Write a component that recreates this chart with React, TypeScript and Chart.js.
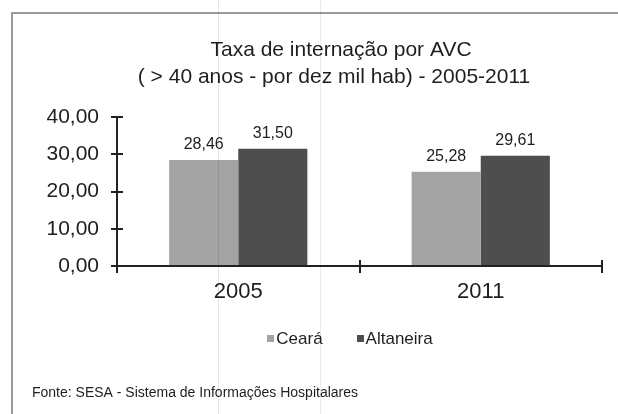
import { useEffect, useRef } from 'react';
import { Chart, registerables } from 'chart.js';

Chart.register(...registerables);

const categories = ['2005', '2011'];
const seriesNames = ['Ceará', 'Altaneira'];
const cearaValues = [28.46, 25.28];
const altaneiraValues = [31.5, 29.61];
const seriesColors = ['#a3a3a3', '#4e4e4e'];
const yTicks = [0, 10, 20, 30, 40];
const titleLines = ['Taxa de internação por AVC', '( > 40 anos - por dez mil hab) - 2005-2011'];
const sourceText = 'Fonte: SESA - Sistema de Informações Hospitalares';

const FONT = '"Liberation Sans", Arial, Helvetica, sans-serif';
const TEXT = '#1e1e1e';
const fmt = (v: number) => v.toFixed(2).replace('.', ',');

const chromePlugin = {
  id: 'chrome',
  afterDatasetsDraw(chart: any) {
    const ctx = chart.ctx;
    ctx.save();
    ctx.fillStyle = TEXT;
    ctx.font = `16px ${FONT}`;
    ctx.textAlign = 'center';
    ctx.textBaseline = 'alphabetic';
    chart.data.datasets.forEach((ds: any, di: number) => {
      const meta = chart.getDatasetMeta(di);
      meta.data.forEach((el: any, i: number) => {
        ctx.fillText(fmt(ds.data[i]), el.x, el.y - 11);
      });
    });
    ctx.restore();
  },
  afterDraw(chart: any) {
    const ctx = chart.ctx;
    const ca = chart.chartArea;
    const xs = chart.scales.x;
    const ys = chart.scales.y;
    ctx.save();
    // inner halves of the crossing tick marks
    ctx.strokeStyle = '#222';
    ctx.lineWidth = 2;
    ys.ticks.forEach((_t: any, i: number) => {
      const y = Math.round(ys.getPixelForTick(i));
      ctx.beginPath();
      ctx.moveTo(ca.left, y);
      ctx.lineTo(ca.left + 6, y);
      ctx.stroke();
    });
    const n = chart.data.labels.length;
    for (let i = 0; i <= n; i++) {
      const x = Math.round(xs.left + (i * xs.width) / n);
      ctx.beginPath();
      ctx.moveTo(x, ca.bottom);
      ctx.lineTo(x, ca.bottom - 6);
      ctx.stroke();
    }
    // title
    ctx.fillStyle = TEXT;
    ctx.textBaseline = 'alphabetic';
    ctx.textAlign = 'center';
    ctx.font = `21px ${FONT}`;
    ctx.fillText(titleLines[0], 341, 56);
    ctx.fillText(titleLines[1], 334, 83);
    // legend
    ctx.font = `17px ${FONT}`;
    const box = 7;
    const gap = 2;
    const spacing = 34;
    const widths = chart.data.datasets.map((d: any) => ctx.measureText(d.label).width);
    const total =
      widths.reduce((a: number, w: number) => a + w + box + gap, 0) + spacing * (widths.length - 1);
    let lx = 350 - total / 2;
    ctx.textAlign = 'left';
    chart.data.datasets.forEach((d: any, i: number) => {
      ctx.fillStyle = d.backgroundColor;
      ctx.fillRect(Math.round(lx), 335, box, box);
      ctx.fillStyle = TEXT;
      ctx.fillText(d.label, lx + box + gap, 344);
      lx += box + gap + widths[i] + spacing;
    });
    // source
    ctx.font = `14px ${FONT}`;
    ctx.fillText(sourceText, 32, 397);
    ctx.restore();
  },
};

export default function App() {
  const ref = useRef<HTMLCanvasElement | null>(null);
  useEffect(() => {
    if (!ref.current) return;
    const chart = new Chart(ref.current, {
      type: 'bar',
      data: {
        labels: categories,
        datasets: [
          {
            label: seriesNames[0],
            data: cearaValues,
            backgroundColor: seriesColors[0],
            borderWidth: 0,
            categoryPercentage: 0.57,
            barPercentage: 1,
          },
          {
            label: seriesNames[1],
            data: altaneiraValues,
            backgroundColor: seriesColors[1],
            borderWidth: 0,
            categoryPercentage: 0.57,
            barPercentage: 1,
          },
        ],
      },
      options: {
        responsive: false,
        animation: false,
        events: [],
        layout: { padding: { left: 0, top: 117, right: 16, bottom: 108 } },
        plugins: {
          legend: { display: false },
          title: { display: false },
          tooltip: { enabled: false },
        },
        scales: {
          x: {
            grid: {
              display: true,
              drawOnChartArea: false,
              drawTicks: true,
              tickLength: 7,
              color: '#222',
              lineWidth: 2,
              offset: true,
            },
            border: { display: true, color: '#222', width: 2 },
            ticks: {
              font: { family: FONT, size: 22 },
              color: TEXT,
              padding: 6,
              maxRotation: 0,
              autoSkip: false,
            },
            afterFit: (s: any) => {
              s.height = 40;
            },
          },
          y: {
            min: 0,
            max: 40,
            afterBuildTicks: (s: any) => {
              s.ticks = yTicks.map((v) => ({ value: v }));
            },
            ticks: {
              font: { family: FONT, size: 21 },
              color: TEXT,
              padding: 12,
              callback: (v: any) => fmt(Number(v)),
            },
            grid: {
              drawOnChartArea: false,
              drawTicks: true,
              tickLength: 6,
              color: '#222',
              lineWidth: 2,
            },
            border: { display: true, color: '#222', width: 2 },
            afterFit: (s: any) => {
              s.width = 117;
            },
          },
        },
      },
      plugins: [chromePlugin],
    });
    return () => chart.destroy();
  }, []);

  return (
    <div
      style={{
        position: 'absolute',
        left: 0,
        top: 0,
        width: 618,
        height: 414,
        overflow: 'hidden',
        background: '#fff',
      }}
    >
      <div
        style={{
          position: 'absolute',
          left: 11,
          top: 12,
          width: 700,
          height: 500,
          borderLeft: '2px solid #9a9a9a',
          borderTop: '2px solid #9a9a9a',
        }}
      />
      <canvas
        ref={ref}
        width={618}
        height={414}
        style={{ position: 'absolute', left: 0, top: 0, width: 618, height: 414 }}
      />
      <div
        style={{
          position: 'absolute',
          left: 218,
          top: 0,
          width: 1,
          height: 414,
          background: 'rgba(0,0,0,0.1)',
        }}
      />
      <div
        style={{
          position: 'absolute',
          left: 320,
          top: 0,
          width: 1,
          height: 414,
          background: 'rgba(0,0,0,0.08)',
        }}
      />
    </div>
  );
}
